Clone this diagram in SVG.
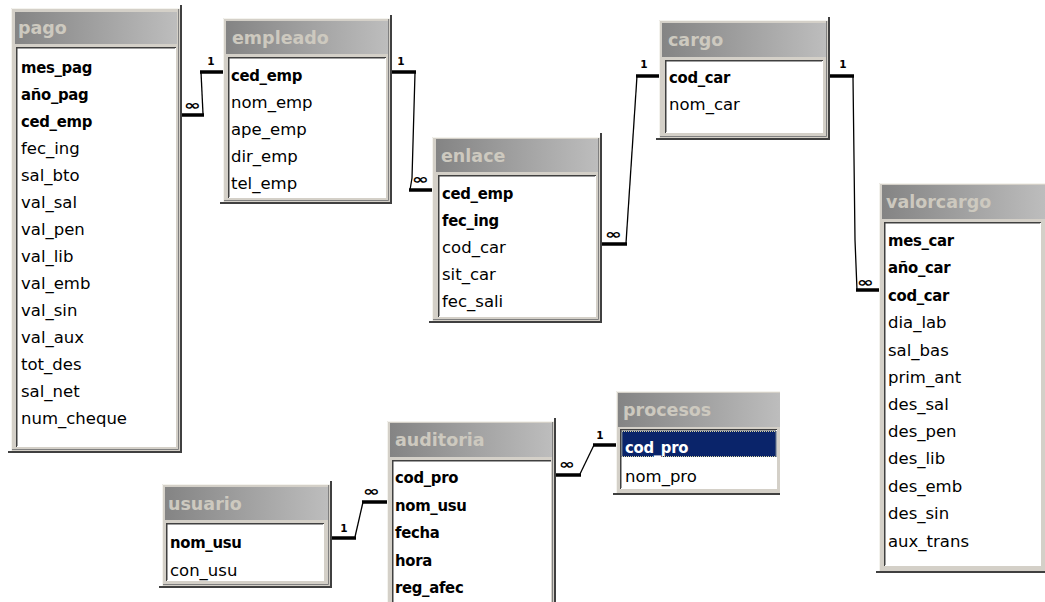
<svg xmlns="http://www.w3.org/2000/svg" width="1045" height="602" viewBox="0 0 1045 602">
  <defs>
    <linearGradient id="hdr" x1="0" y1="0" x2="1" y2="0">
      <stop offset="0" stop-color="#848484"/>
      <stop offset="1" stop-color="#bdbdbd"/>
    </linearGradient>
  </defs>
  <style>
    .frame { fill: #d4d0c8; }
    .hi { fill: none; stroke: #f4f3ee; stroke-width: 1; }
    .sh { fill: none; stroke: #404040; stroke-width: 2; }
    .sh2 { fill: none; stroke: #808080; stroke-width: 1; }
    .bar { fill: url(#hdr); }
    .title { font-family: "DejaVu Sans", sans-serif; font-weight: bold; font-size: 17.5px; fill: #cdc9bf; }
    .list { fill: #ffffff; }
    .sunk { fill: none; stroke: #404040; stroke-width: 1.5; }
    .sunk2 { fill: none; stroke: #ffffff; stroke-width: 1; }
    .f { font-family: "DejaVu Sans", sans-serif; font-size: 16.5px; fill: #000; }
    .k { font-family: "DejaVu Sans Condensed", "DejaVu Sans", sans-serif; font-weight: bold; font-size: 16.5px; fill: #000; letter-spacing: -0.3px; }
    .thick { stroke: #000; stroke-width: 3.5; fill: none; }
    .thin { stroke: #000; stroke-width: 1.3; fill: none; }
    .one { font-family: "DejaVu Sans", sans-serif; font-weight: bold; font-size: 10.5px; fill: #000; text-anchor: middle; }
    .many { font-family: "DejaVu Sans", sans-serif; font-weight: bold; font-size: 14px; fill: #000; }
  </style>

  <!-- relationship lines -->
  <g id="connectors">
    <!-- pago.ced_emp (many) - empleado.ced_emp (1) -->
    <line class="thick" x1="182" y1="115" x2="204" y2="115"/>
    <path class="thin" d="M203,114 L201,72"/>
    <line class="thick" x1="200" y1="72" x2="223" y2="72"/>
    <text class="one" x="211" y="65">1</text>
    <text class="many" x="184" y="110" textLength="17" lengthAdjust="spacingAndGlyphs">∞</text>

    <!-- empleado.ced_emp (1) - enlace.ced_emp (many) -->
    <line class="thick" x1="391" y1="72" x2="416" y2="72"/>
    <path class="thin" d="M415,73 L412,178 L410,190"/>
    <line class="thick" x1="409" y1="190" x2="432" y2="190"/>
    <text class="one" x="401" y="65">1</text>
    <text class="many" x="412" y="184" textLength="17" lengthAdjust="spacingAndGlyphs">∞</text>

    <!-- enlace.cod_car (many) - cargo.cod_car (1) -->
    <line class="thick" x1="601" y1="244" x2="627" y2="244"/>
    <path class="thin" d="M626,243 L637,76"/>
    <line class="thick" x1="636" y1="76" x2="659" y2="76"/>
    <text class="one" x="644" y="68">1</text>
    <text class="many" x="605" y="239" textLength="17" lengthAdjust="spacingAndGlyphs">∞</text>

    <!-- cargo.cod_car (1) - valorcargo.cod_car (many) -->
    <line class="thick" x1="829" y1="76" x2="854" y2="76"/>
    <path class="thin" d="M853,77 L855,240 L857,290"/>
    <line class="thick" x1="856" y1="290" x2="879" y2="290"/>
    <text class="one" x="843" y="68">1</text>
    <text class="many" x="857" y="287" textLength="17" lengthAdjust="spacingAndGlyphs">∞</text>

    <!-- auditoria.cod_pro (many) - procesos.cod_pro (1) -->
    <line class="thick" x1="555" y1="475" x2="581" y2="475"/>
    <path class="thin" d="M580,474 L594,445"/>
    <line class="thick" x1="593" y1="445" x2="616" y2="445"/>
    <text class="one" x="600" y="439">1</text>
    <text class="many" x="559" y="469" textLength="16" lengthAdjust="spacingAndGlyphs">∞</text>

    <!-- usuario.nom_usu (1) - auditoria.nom_usu (many) -->
    <line class="thick" x1="331" y1="538" x2="356" y2="538"/>
    <path class="thin" d="M355,537 L363,502"/>
    <line class="thick" x1="362" y1="502" x2="387" y2="502"/>
    <text class="one" x="344" y="532">1</text>
    <text class="many" x="363" y="496" textLength="17" lengthAdjust="spacingAndGlyphs">∞</text>
  </g>

  <!-- table: pago -->
  <g id="pago">
    <rect class="frame" x="11" y="8" width="170" height="444"/>
    <path class="hi" d="M11.5,452 V8.5 H181"/>
    <path class="sh2" d="M178.5,9 V449.5 H12"/>
    <path class="sh" d="M181,5 V452 H8"/>
    <rect class="bar" x="15" y="12" width="162" height="32"/>
    <text class="title" x="18" y="34">pago</text>
    <rect class="list" x="16" y="47" width="160" height="400"/>
    <path class="sunk" d="M16.75,447 V47.75 H176"/>
    <path class="sunk2" d="M17,446.5 H175.5 V48"/>
    <text class="k" x="21" y="73">mes_pag</text>
    <text class="k" x="21" y="100">año_pag</text>
    <text class="k" x="21" y="127">ced_emp</text>
    <text class="f" x="21" y="154">fec_ing</text>
    <text class="f" x="21" y="181">sal_bto</text>
    <text class="f" x="21" y="208">val_sal</text>
    <text class="f" x="21" y="235">val_pen</text>
    <text class="f" x="21" y="262">val_lib</text>
    <text class="f" x="21" y="289">val_emb</text>
    <text class="f" x="21" y="316">val_sin</text>
    <text class="f" x="21" y="343">val_aux</text>
    <text class="f" x="21" y="370">tot_des</text>
    <text class="f" x="21" y="397">sal_net</text>
    <text class="f" x="21" y="424">num_cheque</text>
  </g>

  <!-- table: empleado -->
  <g id="empleado">
    <rect class="frame" x="223" y="18" width="168" height="185"/>
    <path class="hi" d="M223.5,203 V18.5 H391"/>
    <path class="sh2" d="M388.5,19 V200.5 H224"/>
    <path class="sh" d="M391,15 V203 H220"/>
    <rect class="bar" x="226" y="21" width="162" height="33"/>
    <text class="title" x="232" y="44">empleado</text>
    <rect class="list" x="228" y="57" width="158" height="141"/>
    <path class="sunk" d="M228.75,198 V57.75 H386"/>
    <path class="sunk2" d="M229,197.5 H385.5 V58"/>
    <text class="k" x="231" y="81">ced_emp</text>
    <text class="f" x="231" y="108">nom_emp</text>
    <text class="f" x="231" y="135">ape_emp</text>
    <text class="f" x="231" y="162">dir_emp</text>
    <text class="f" x="231" y="189">tel_emp</text>
  </g>

  <!-- table: enlace -->
  <g id="enlace">
    <rect class="frame" x="432" y="137" width="169" height="185"/>
    <path class="hi" d="M432.5,322 V137.5 H601"/>
    <path class="sh2" d="M598.5,138 V319.5 H433"/>
    <path class="sh" d="M601,133 V322 H429"/>
    <rect class="bar" x="436" y="139" width="162" height="33"/>
    <text class="title" x="441" y="162">enlace</text>
    <rect class="list" x="438" y="175" width="158" height="142"/>
    <path class="sunk" d="M438.75,317 V175.75 H596"/>
    <path class="sunk2" d="M439,316.5 H595.5 V176"/>
    <text class="k" x="442" y="199">ced_emp</text>
    <text class="k" x="442" y="226">fec_ing</text>
    <text class="f" x="442" y="253">cod_car</text>
    <text class="f" x="442" y="280">sit_car</text>
    <text class="f" x="442" y="307">fec_sali</text>
  </g>

  <!-- table: cargo -->
  <g id="cargo">
    <rect class="frame" x="659" y="20" width="170" height="119"/>
    <path class="hi" d="M659.5,139 V20.5 H829"/>
    <path class="sh2" d="M826.5,21 V136.5 H660"/>
    <path class="sh" d="M829,17 V139 H656"/>
    <rect class="bar" x="662" y="23" width="164" height="34"/>
    <text class="title" x="668" y="46">cargo</text>
    <rect class="list" x="665" y="60" width="158" height="73"/>
    <path class="sunk" d="M665.75,133 V60.75 H823"/>
    <path class="sunk2" d="M666,132.5 H822.5 V61"/>
    <text class="k" x="669" y="83">cod_car</text>
    <text class="f" x="669" y="110">nom_car</text>
  </g>

  <!-- table: valorcargo -->
  <g id="valorcargo">
    <rect class="frame" x="879" y="183" width="166" height="389"/>
    <path class="hi" d="M879.5,572 V183.5 H1045"/>
    <path class="sh" d="M1045,572 H876"/>
    <rect class="bar" x="882" y="185" width="163" height="34"/>
    <text class="title" x="886" y="208">valorcargo</text>
    <rect class="list" x="884" y="222" width="157" height="344"/>
    <path class="sunk" d="M884.75,566 V222.75 H1041"/>
    <path class="sunk2" d="M885,565.5 H1040.5 V223"/>
    <text class="k" x="888" y="246">mes_car</text>
    <text class="k" x="888" y="273">año_car</text>
    <text class="k" x="888" y="301">cod_car</text>
    <text class="f" x="888" y="328">dia_lab</text>
    <text class="f" x="888" y="356">sal_bas</text>
    <text class="f" x="888" y="383">prim_ant</text>
    <text class="f" x="888" y="410">des_sal</text>
    <text class="f" x="888" y="437">des_pen</text>
    <text class="f" x="888" y="464">des_lib</text>
    <text class="f" x="888" y="492">des_emb</text>
    <text class="f" x="888" y="519">des_sin</text>
    <text class="f" x="888" y="547">aux_trans</text>
  </g>

  <!-- table: auditoria -->
  <g id="auditoria">
    <rect class="frame" x="387" y="421" width="168" height="190"/>
    <path class="hi" d="M387.5,611 V421.5 H555"/>
    <path class="sh2" d="M552.5,422 V611"/>
    <path class="sh" d="M555,418 V611"/>
    <rect class="bar" x="390" y="423" width="162" height="34"/>
    <text class="title" x="395" y="446">auditoria</text>
    <rect class="list" x="392" y="460" width="159" height="150"/>
    <path class="sunk" d="M392.75,610 V460.75 H551"/>
    <text class="k" x="395" y="483">cod_pro</text>
    <text class="k" x="395" y="511">nom_usu</text>
    <text class="k" x="395" y="538">fecha</text>
    <text class="k" x="395" y="566">hora</text>
    <text class="k" x="395" y="593">reg_afec</text>
  </g>

  <!-- table: procesos -->
  <g id="procesos">
    <rect class="frame" x="616" y="391" width="164" height="103"/>
    <path class="hi" d="M616.5,494 V391.5 H780"/>
    <path class="sh" d="M780,494 H613"/>
    <rect class="bar" x="618" y="393" width="162" height="34"/>
    <text class="title" x="623" y="416">procesos</text>
    <rect class="list" x="620" y="429" width="157" height="60"/>
    <path class="sunk" d="M620.75,489 V429.75 H777"/>
    <path class="sunk2" d="M621,488.5 H776.5 V430"/>
    <rect x="621.5" y="431" width="155" height="26" fill="#0a246a"/>
    <rect x="622" y="431.5" width="154" height="25" fill="none" stroke="#d8d4a0" stroke-width="1" stroke-dasharray="1 1"/>
    <text class="k" x="625" y="453" style="fill:#ffffff">cod_pro</text>
    <text class="f" x="625" y="482">nom_pro</text>
  </g>

  <!-- table: usuario -->
  <g id="usuario">
    <rect class="frame" x="162" y="484" width="169" height="103"/>
    <path class="hi" d="M162.5,587 V484.5 H331"/>
    <path class="sh2" d="M328.5,485 V584.5 H163"/>
    <path class="sh" d="M331,481 V587 H159"/>
    <rect class="bar" x="165" y="487" width="163" height="33"/>
    <text class="title" x="168" y="510">usuario</text>
    <rect class="list" x="166" y="523" width="158" height="58"/>
    <path class="sunk" d="M166.75,581 V523.75 H324"/>
    <path class="sunk2" d="M167,580.5 H323.5 V524"/>
    <text class="k" x="170" y="548">nom_usu</text>
    <text class="f" x="170" y="576">con_usu</text>
  </g>
</svg>
